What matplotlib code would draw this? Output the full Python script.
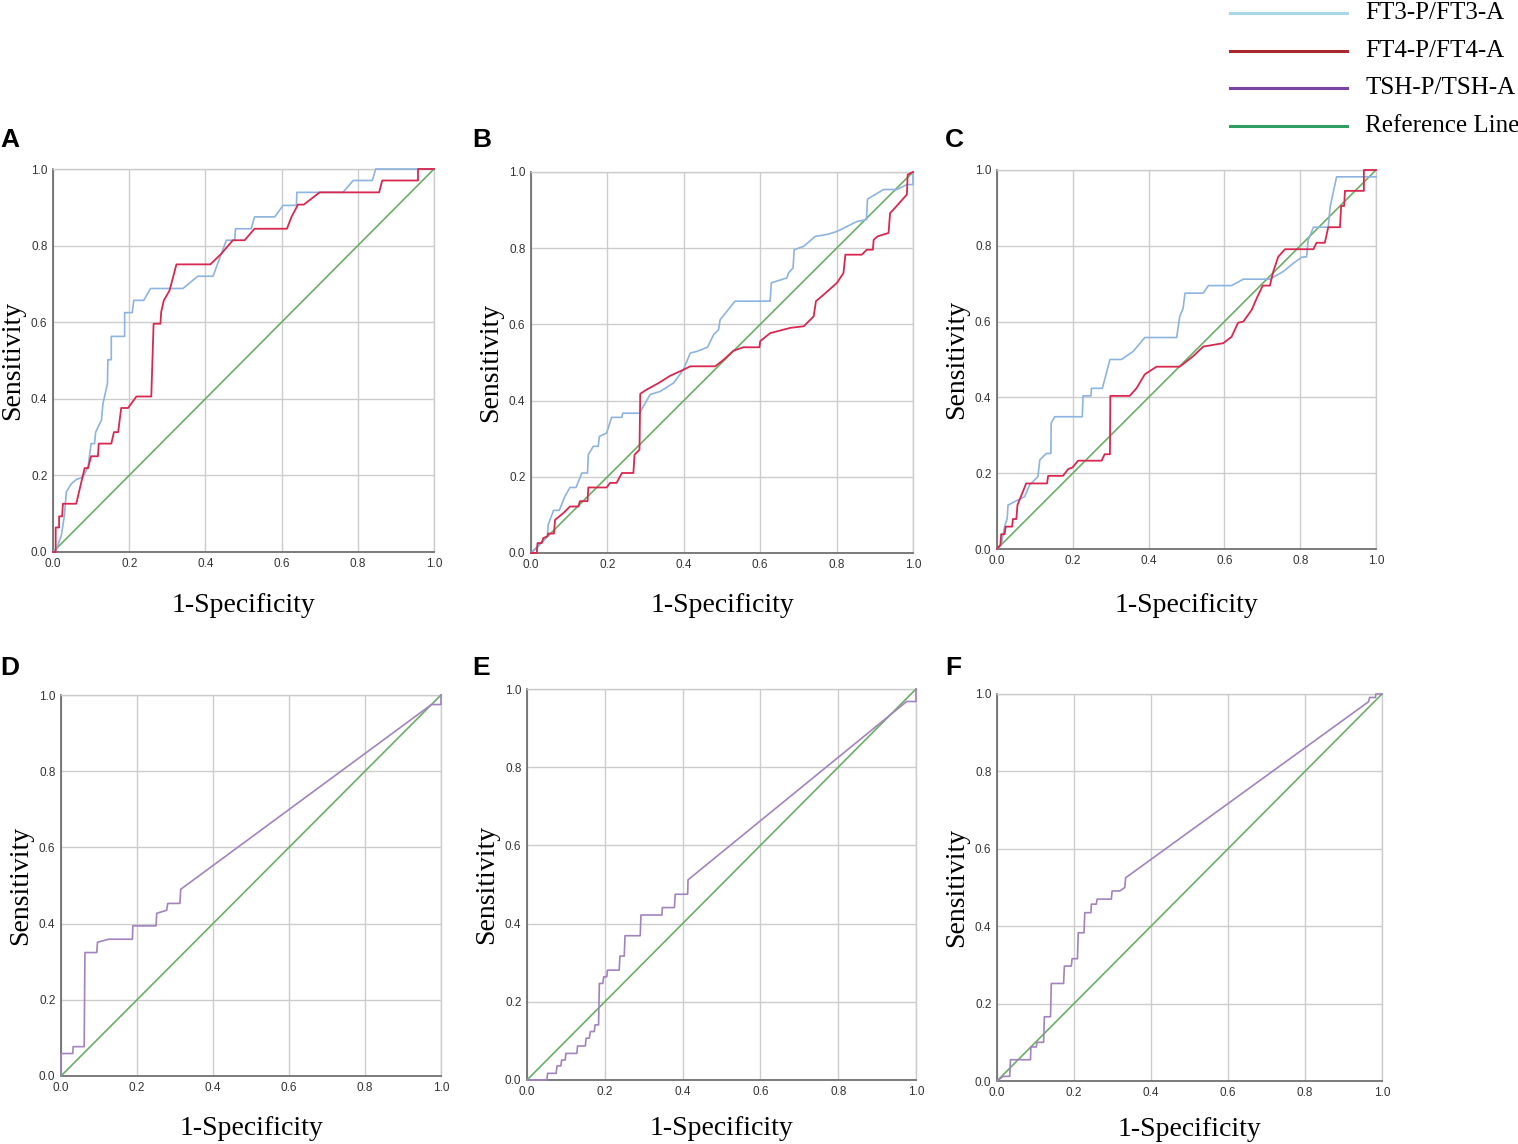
import matplotlib
matplotlib.use("Agg")
import matplotlib.pyplot as plt
from matplotlib.lines import Line2D

# ---- data (1-specificity, sensitivity) ----
a_ft3_x = [0, 0.01, 0.022, 0.03, 0.035, 0.048, 0.061, 0.079, 0.092, 0.1, 0.109, 0.112, 0.127, 0.131, 0.143, 0.144, 0.153, 0.153,
           0.188, 0.188, 0.208, 0.212, 0.238, 0.256, 0.341, 0.38, 0.42, 0.455, 0.477, 0.479, 0.52, 0.529, 0.582, 0.604, 0.639,
           0.64, 0.761, 0.788, 0.838, 0.847, 1.0]
a_ft3_y = [0, 0.01, 0.044, 0.096, 0.157, 0.178, 0.189, 0.196, 0.222, 0.283, 0.283, 0.313, 0.344, 0.387, 0.44, 0.502, 0.502, 0.563,
           0.563, 0.625, 0.625, 0.657, 0.657, 0.688, 0.688, 0.72, 0.72, 0.814, 0.814, 0.844, 0.844, 0.875, 0.875, 0.905, 0.905,
           0.939, 0.939, 0.97, 0.97, 1.0, 1.0]
a_ft4_x = [0, 0.007, 0.007, 0.016, 0.016, 0.024, 0.026, 0.061, 0.083, 0.092, 0.1, 0.118, 0.12, 0.153, 0.16, 0.171, 0.179, 0.197,
           0.219, 0.258, 0.264, 0.282, 0.284, 0.291, 0.306, 0.324, 0.413, 0.442, 0.472, 0.503, 0.529, 0.614, 0.626, 0.643, 0.658,
           0.7, 0.856, 0.864, 0.958, 0.958, 1.0]
a_ft4_y = [0, 0, 0.064, 0.064, 0.093, 0.093, 0.126, 0.126, 0.219, 0.219, 0.25, 0.25, 0.283, 0.283, 0.313, 0.313, 0.376, 0.376,
           0.406, 0.406, 0.596, 0.596, 0.627, 0.657, 0.683, 0.751, 0.751, 0.779, 0.814, 0.814, 0.844, 0.844, 0.875, 0.907, 0.907,
           0.939, 0.939, 0.97, 0.97, 1.0, 1.0]

b_ft3_x = [0, 0.015, 0.028, 0.043, 0.045, 0.059, 0.074, 0.089, 0.102, 0.118, 0.133, 0.148, 0.15, 0.163, 0.176, 0.179, 0.198, 0.211,
           0.238, 0.24, 0.284, 0.312, 0.338, 0.373, 0.399, 0.417, 0.434, 0.462, 0.478, 0.491, 0.495, 0.534, 0.626, 0.629, 0.67,
           0.674, 0.686, 0.689, 0.714, 0.744, 0.775, 0.801, 0.827, 0.853, 0.878, 0.881, 0.923, 0.958, 0.984, 1.0, 1.0]
b_ft3_y = [0, 0.013, 0.028, 0.044, 0.074, 0.112, 0.112, 0.149, 0.172, 0.172, 0.21, 0.21, 0.258, 0.28, 0.28, 0.306, 0.315, 0.356,
           0.356, 0.367, 0.367, 0.416, 0.424, 0.446, 0.481, 0.525, 0.529, 0.54, 0.573, 0.586, 0.612, 0.661, 0.661, 0.709, 0.722,
           0.735, 0.748, 0.796, 0.805, 0.831, 0.836, 0.844, 0.857, 0.87, 0.875, 0.929, 0.954, 0.954, 0.967, 0.967, 1.0]
b_ft4_x = [0, 0.015, 0.017, 0.028, 0.032, 0.043, 0.045, 0.06, 0.063, 0.085, 0.102, 0.124, 0.128, 0.148, 0.15, 0.198, 0.207, 0.224,
           0.238, 0.268, 0.271, 0.284, 0.286, 0.303, 0.334, 0.364, 0.399, 0.417, 0.482, 0.504, 0.53, 0.556, 0.598, 0.6, 0.626,
           0.679, 0.714, 0.74, 0.746, 0.766, 0.801, 0.818, 0.823, 0.866, 0.879, 0.895, 0.897, 0.907, 0.936, 0.94, 0.953, 0.984,
           0.986, 1.0]
b_ft4_y = [0, 0, 0.026, 0.026, 0.039, 0.044, 0.051, 0.051, 0.087, 0.105, 0.122, 0.122, 0.136, 0.136, 0.172, 0.172, 0.184, 0.184,
           0.21, 0.21, 0.258, 0.271, 0.418, 0.429, 0.446, 0.465, 0.481, 0.49, 0.49, 0.507, 0.531, 0.54, 0.54, 0.556, 0.577,
           0.591, 0.595, 0.621, 0.661, 0.678, 0.709, 0.735, 0.783, 0.783, 0.796, 0.796, 0.822, 0.831, 0.84, 0.892, 0.906, 0.941,
           0.993, 1.0]

c_ft3_x = [0, 0.011, 0.02, 0.027, 0.029, 0.047, 0.064, 0.073, 0.086, 0.108, 0.113, 0.13, 0.142, 0.143, 0.152, 0.225, 0.227, 0.248,
           0.249, 0.278, 0.298, 0.328, 0.359, 0.39, 0.474, 0.482, 0.491, 0.496, 0.544, 0.558, 0.619, 0.65, 0.72, 0.755, 0.782,
           0.804, 0.817, 0.821, 0.835, 0.874, 0.879, 0.896, 1.0]
c_ft3_y = [0, 0.011, 0.059, 0.081, 0.116, 0.125, 0.134, 0.138, 0.169, 0.191, 0.235, 0.252, 0.252, 0.332, 0.349, 0.349, 0.404, 0.404,
           0.424, 0.424, 0.5, 0.5, 0.521, 0.558, 0.558, 0.613, 0.635, 0.675, 0.675, 0.695, 0.695, 0.712, 0.712, 0.732, 0.754,
           0.77, 0.771, 0.815, 0.849, 0.849, 0.903, 0.982, 0.982]
c_ft4_x = [0, 0.009, 0.011, 0.02, 0.023, 0.04, 0.042, 0.051, 0.054, 0.077, 0.132, 0.135, 0.174, 0.188, 0.199, 0.214, 0.276, 0.284,
           0.298, 0.299, 0.35, 0.368, 0.39, 0.421, 0.482, 0.518, 0.544, 0.579, 0.597, 0.619, 0.636, 0.65, 0.672, 0.685, 0.701,
           0.72, 0.729, 0.742, 0.76, 0.835, 0.843, 0.865, 0.874, 0.905, 0.908, 0.916, 0.918, 0.968, 0.968, 1.0]
c_ft4_y = [0, 0.011, 0.039, 0.039, 0.059, 0.059, 0.079, 0.079, 0.116, 0.173, 0.173, 0.193, 0.193, 0.211, 0.215, 0.233, 0.233, 0.25,
           0.25, 0.404, 0.404, 0.424, 0.461, 0.481, 0.481, 0.509, 0.534, 0.54, 0.543, 0.56, 0.597, 0.6, 0.631, 0.661, 0.695,
           0.695, 0.732, 0.771, 0.791, 0.791, 0.808, 0.808, 0.849, 0.849, 0.905, 0.905, 0.945, 0.945, 1.0, 1.0]

d_tsh_x = [0, 0, 0.031, 0.032, 0.061, 0.063, 0.094, 0.096, 0.125, 0.188, 0.189, 0.25, 0.252, 0.278, 0.281, 0.313, 0.315, 0.975, 1.0,
           1.0]
d_tsh_y = [0, 0.059, 0.059, 0.077, 0.077, 0.324, 0.324, 0.351, 0.359, 0.359, 0.394, 0.394, 0.427, 0.435, 0.453, 0.453, 0.49, 0.975,
           0.975, 1.0]

e_tsh_x = [0, 0.051, 0.053, 0.075, 0.077, 0.087, 0.089, 0.098, 0.1, 0.128, 0.13, 0.15, 0.152, 0.16, 0.163, 0.173, 0.175, 0.184,
           0.186, 0.195, 0.197, 0.205, 0.207, 0.237, 0.239, 0.25, 0.252, 0.291, 0.293, 0.347, 0.348, 0.379, 0.381, 0.413, 0.414,
           0.976, 1.0, 1.0]
e_tsh_y = [0, 0, 0.017, 0.017, 0.036, 0.036, 0.051, 0.051, 0.068, 0.068, 0.087, 0.087, 0.107, 0.107, 0.124, 0.124, 0.141, 0.141,
           0.247, 0.247, 0.264, 0.264, 0.281, 0.281, 0.317, 0.317, 0.369, 0.369, 0.422, 0.422, 0.441, 0.441, 0.475, 0.475, 0.512,
           0.968, 0.968, 1.0]

f_tsh_x = [0, 0.016, 0.033, 0.035, 0.087, 0.088, 0.102, 0.104, 0.121, 0.123, 0.139, 0.141, 0.173, 0.175, 0.193, 0.195, 0.209, 0.211,
           0.226, 0.228, 0.244, 0.245, 0.258, 0.26, 0.297, 0.299, 0.319, 0.332, 0.334, 0.965, 0.968, 0.983, 0.984, 1.0]
f_tsh_y = [0, 0.012, 0.012, 0.055, 0.055, 0.088, 0.088, 0.1, 0.1, 0.166, 0.166, 0.252, 0.252, 0.297, 0.297, 0.316, 0.316, 0.383,
           0.383, 0.435, 0.435, 0.457, 0.457, 0.47, 0.47, 0.491, 0.491, 0.5, 0.525, 0.98, 0.991, 0.991, 1.0, 1.0]

ticks = [0.0, 0.2, 0.4, 0.6, 0.8, 1.0]
tick_labels = ["0.0", "0.2", "0.4", "0.6", "0.8", "1.0"]
legend_labels = ["FT3-P/FT3-A", "FT4-P/FT4-A", "TSH-P/TSH-A", "Reference Line"]

# colours
c_ft3 = "#8db4de"
c_ft4 = "#d8284f"
c_tsh = "#a283bd"
c_ref = "#6aae66"
leg_colors = ["#a9d6ea", "#a8282c", "#7a43a0", "#2f9e62"]

W, H = 1518, 1144
fig = plt.figure(figsize=(W / 100, H / 100), dpi=100)


def px_axes(x0, y0, x1, y1):
    # pixel box -> figure fraction axes
    return fig.add_axes([x0 / W, 1 - y1 / H, (x1 - x0) / W, (y1 - y0) / H])


def style(ax, xpad):
    ax.set_xlim(0, 1)
    ax.set_ylim(0, 1)
    ax.set_xticks(ticks)
    ax.set_yticks(ticks)
    ax.set_xticklabels(tick_labels, fontsize=8.5, family="Liberation Sans", color="#333333")
    ax.set_yticklabels(tick_labels, fontsize=8.5, family="Liberation Sans", color="#333333")
    ax.tick_params(length=0, pad=4)
    ax.grid(True, color="#cccccc", lw=1.0)
    ax.set_axisbelow(True)
    for s in ["left", "bottom"]:
        ax.spines[s].set_color("#666666")
        ax.spines[s].set_linewidth(1.2)
    for s in ["top", "right"]:
        ax.spines[s].set_color("#cccccc")
        ax.spines[s].set_linewidth(1.0)
    ax.set_xlabel("1-Specificity", family="Liberation Serif", fontsize=20, labelpad=xpad)
    ax.set_ylabel("Sensitivity", family="Liberation Serif", fontsize=20, labelpad=4)
    ax.plot([0, 1], [0, 1], color=c_ref, lw=1.2, zorder=3, clip_on=False)


boxes = {
    "A": (53, 169, 434, 552),
    "B": (531, 172, 913, 553),
    "C": (997, 170, 1376, 549),
    "D": (61, 695, 441, 1076),
    "E": (527, 689, 916, 1080),
    "F": (997, 694, 1382, 1081),
}
xlabel_pad = {"A": 17, "B": 16, "C": 19, "D": 16, "E": 13, "F": 13}
letter_pos = {"A": (0, 140), "B": (472, 140), "C": (945, 140),
              "D": (0, 668), "E": (472, 668), "F": (945, 668)}

axes = {}
for k, b in boxes.items():
    ax = px_axes(*b)
    style(ax, xlabel_pad[k])
    axes[k] = ax
    lx, ly = letter_pos[k]
    fig.text(lx / W, 1 - ly / H, k, fontsize=19, fontweight="bold", family="Liberation Sans",
             va="center", ha="left")

curve_kw = dict(zorder=4, clip_on=False)
axes["A"].plot(a_ft3_x, a_ft3_y, color=c_ft3, lw=1.2, **curve_kw)
axes["A"].plot(a_ft4_x, a_ft4_y, color=c_ft4, lw=1.3, **curve_kw)
axes["B"].plot(b_ft3_x, b_ft3_y, color=c_ft3, lw=1.2, **curve_kw)
axes["B"].plot(b_ft4_x, b_ft4_y, color=c_ft4, lw=1.3, **curve_kw)
axes["C"].plot(c_ft3_x, c_ft3_y, color=c_ft3, lw=1.2, **curve_kw)
axes["C"].plot(c_ft4_x, c_ft4_y, color=c_ft4, lw=1.3, **curve_kw)
axes["D"].plot(d_tsh_x, d_tsh_y, color=c_tsh, lw=1.2, **curve_kw)
axes["E"].plot(e_tsh_x, e_tsh_y, color=c_tsh, lw=1.2, **curve_kw)
axes["F"].plot(f_tsh_x, f_tsh_y, color=c_tsh, lw=1.2, **curve_kw)

# legend in the top right corner
leg_y = [13, 51, 88, 126]
for lab, col, y in zip(legend_labels, leg_colors, leg_y):
    fig.add_artist(Line2D([1230 / W, 1347 / W], [1 - y / H, 1 - y / H], color=col, lw=2.2))
    fig.text(1365 / W, 1 - y / H, lab, family="Liberation Serif", fontsize=18, va="center", ha="left")

fig.savefig("out.png", dpi=100)
